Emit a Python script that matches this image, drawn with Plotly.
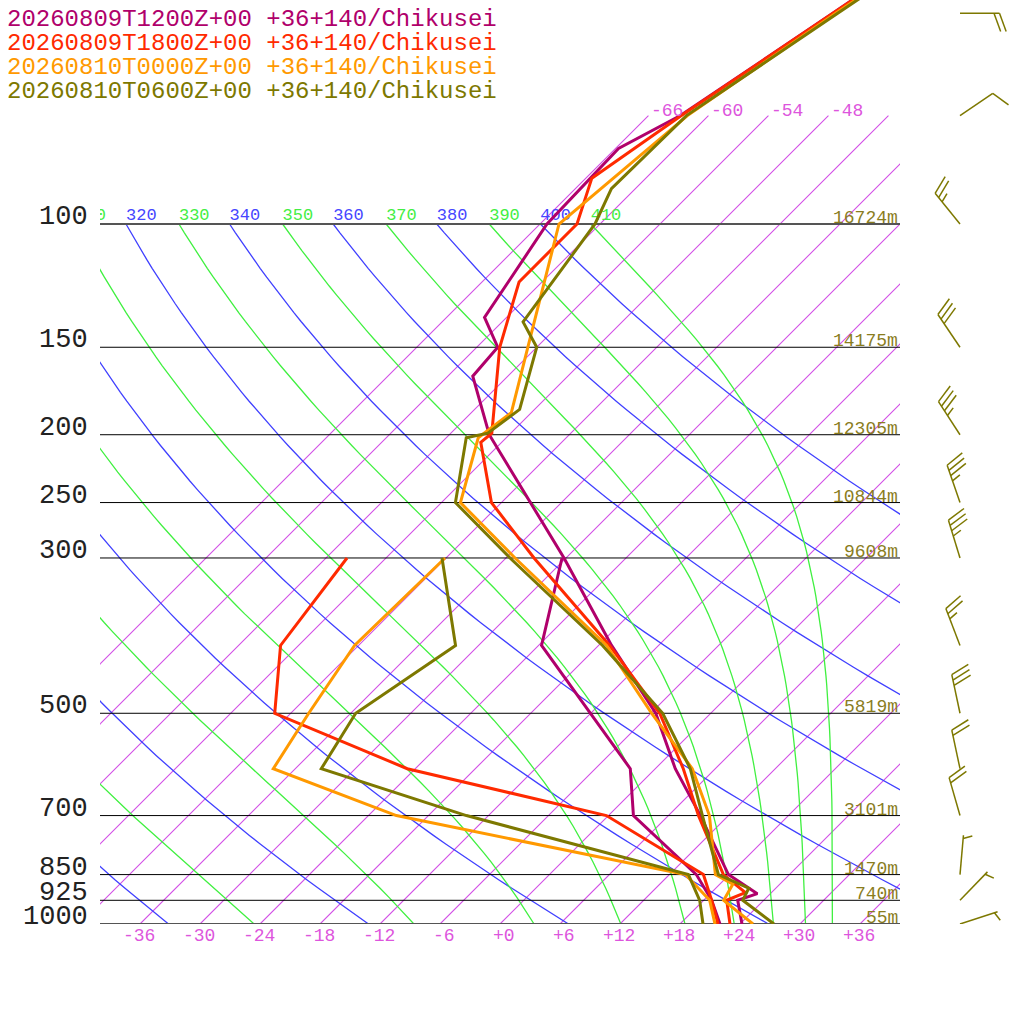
import numpy as np
import plotly.graph_objects as go

# soundings: pressure (hPa), temperature / dewpoint (degC)
# 20260809T1200Z (purple)
P_0912 = [1000, 925, 905, 850, 700, 600, 500, 400, 300, 200, 165, 150, 136, 100, 78, 70, 50, 30]
T_0912 = [24.2, 21.4, 22.7, 17.9, 9.2, 2.0, -5.5, -16.7, -30.2, -50.0, -57.5, -57.9, -62.2, -65.3, -65.7, -62.8, -57.8, -50.5]
PD_0912 = [1000, 925, 850, 700, 600, 500, 400, 300]
TD_0912 = [22.0, 18.8, 14.7, 2.5, -2.5, -12.0, -23.7, -30.4]

# 20260809T1800Z (red)
P_0918 = [1000, 925, 902, 850, 700, 600, 500, 400, 300, 250, 205, 199, 150, 121, 100, 86, 70, 50, 30]
T_0918 = [23.0, 20.3, 21.4, 17.4, 9.0, 2.8, -5.1, -16.9, -33.2, -43.0, -50.1, -49.9, -57.7, -62.3, -62.3, -65.4, -62.7, -57.7, -50.3]
PD_0918 = [1000, 925, 850, 700, 600, 500, 400, 300]
TD_0918 = [21.8, 18.8, 15.4, -0.2, -24.8, -43.6, -49.8, -51.9]

# 20260810T0000Z (orange)
P_1000 = [1000, 925, 877, 850, 700, 600, 500, 400, 300, 250, 202, 186, 100, 70, 50, 30]
T_1000 = [25.3, 20.0, 19.3, 16.6, 10.1, 3.7, -5.9, -17.2, -35.1, -46.1, -50.8, -50.0, -64.1, -62.1, -57.5, -50.0]
PD_1000 = [1000, 925, 850, 700, 600, 500, 400, 300]
TD_1000 = [21.5, 18.6, 13.6, -21.2, -38.2, -40.2, -42.4, -42.1]

# 20260810T0600Z (olive)
P_1006 = [1000, 925, 889, 850, 700, 600, 500, 400, 300, 250, 202, 199, 184, 150, 138, 100, 89, 70, 50, 30]
T_1006 = [27.4, 21.9, 21.3, 16.9, 9.4, 3.5, -4.8, -17.6, -35.6, -46.6, -52.0, -50.3, -49.5, -54.0, -57.9, -60.5, -62.4, -62.2, -57.3, -49.8]
PD_1006 = [1000, 925, 850, 700, 600, 500, 400, 300]
TD_1006 = [20.3, 17.6, 13.9, -14.2, -33.4, -35.5, -32.3, -42.4]

# winds of the last run (deg, kt)
WIND_P = [50, 70, 100, 150, 200, 250, 300, 400, 500, 600, 700, 850, 925, 1000]
WIND_DIR = [90, 56, 321, 326, 327, 341, 343, 339, 348, 348, 344, 5, 44, 72]
WIND_KT = [20, 10, 25, 30, 35, 35, 35, 25, 30, 20, 20, 5, 5, 5]

# labelled levels and their heights
LEVELS = [100, 150, 200, 250, 300, 500, 700, 850, 925, 1000]
HEIGHTS = [16724, 14175, 12305, 10844, 9608, 5819, 3101, 1470, 740, 55]

ISOTHERMS = list(range(-66, 37, 6))
T_TICKS = list(range(-36, 37, 6))
THETA = list(range(200, 401, 20))
THETA_E = list(range(230, 411, 20))

RUNS = [
    ("20260809T1200Z+00 +36+140/Chikusei", "#b0006b", P_0912, T_0912, PD_0912, TD_0912),
    ("20260809T1800Z+00 +36+140/Chikusei", "#ff2a00", P_0918, T_0918, PD_0918, TD_0918),
    ("20260810T0000Z+00 +36+140/Chikusei", "#ff9900", P_1000, T_1000, PD_1000, TD_1000),
    ("20260810T0600Z+00 +36+140/Chikusei", "#7d7800", P_1006, T_1006, PD_1006, TD_1006),
]

FONT = "Liberation Mono"
SIZE = 1024
OFF = 0              # page margin is removed by the post script below
SKEW = 70.0          # degC of skew per decade of pressure
PX_DEC = 700.0       # pixels per decade of pressure


def paper_x(px):
    return (px - OFF) / SIZE


def paper_y(py):
    return 1 - (py - OFF) / SIZE


X0, X1 = paper_x(100), paper_x(900)
Y0 = paper_y(924)
LOG_TOP = 3 - (924 - OFF) / PX_DEC
PX_PER_DEC = (1 - Y0) * SIZE / (3 - LOG_TOP)


def skew_x(t, p):
    return np.asarray(t, float) + SKEW * np.log10(1000.0 / np.asarray(p, float))


def theta_e_sat(tk, p):
    tc = tk - 273.15
    es = 6.112 * np.exp(17.67 * tc / (tc + 243.5))
    es = np.minimum(es, 0.9 * p)
    r = 622.0 * es / (p - es)
    return tk * (1000.0 / p) ** (0.2854 * (1 - 0.00028 * r)) * np.exp((3.376 / tk - 0.00254) * r * (1 + 0.00081 * r))


def moist_t(the, p):
    lo = np.full_like(p, 150.0)
    hi = np.full_like(p, 330.0)
    for _ in range(50):
        mid = 0.5 * (lo + hi)
        big = theta_e_sat(mid, p) > the
        hi = np.where(big, mid, hi)
        lo = np.where(big, lo, mid)
    return 0.5 * (lo + hi) - 273.15


fig = go.Figure()
pp = np.logspace(3, 2, 80)

# isotherms
for t in ISOTHERMS:
    fig.add_trace(go.Scatter(x=skew_x([t, t], [1000, 70]), y=[1000, 70], mode="lines",
                             line=dict(color="#d24ee6", width=1.1), hoverinfo="skip"))
# dry adiabats
for th in THETA:
    tt = th * (pp / 1000.0) ** 0.2857 - 273.15
    fig.add_trace(go.Scatter(x=skew_x(tt, pp), y=pp, mode="lines",
                             line=dict(color="#4040ff", width=1.3), hoverinfo="skip"))
# moist adiabats
for the in THETA_E:
    tt = moist_t(the, pp)
    fig.add_trace(go.Scatter(x=skew_x(tt, pp), y=pp, mode="lines",
                             line=dict(color="#40f040", width=1.3), hoverinfo="skip"))

# adiabat labels along 100 hPa (only those reaching the plot)
lab_x, lab_t, lab_c = [], [], []
for th in THETA:
    x = float(skew_x(th * 0.1 ** 0.2857 - 273.15, 100))
    if x > -44:
        lab_x.append(x); lab_t.append(str(th)); lab_c.append("#4646ff")
for the in THETA_E:
    x = float(skew_x(moist_t(the, np.array([100.0]))[0], 100))
    if x > -44:
        lab_x.append(x); lab_t.append(str(the)); lab_c.append("#44ee44")
fig.add_trace(go.Scatter(x=lab_x, y=[100] * len(lab_x), mode="text", text=lab_t,
                         textposition="top right", cliponaxis=True,
                         textfont=dict(family=FONT, size=17, color=lab_c), hoverinfo="skip"))

# pressure lines
for p in LEVELS:
    edge = p in (100, 1000)
    fig.add_trace(go.Scatter(x=[-40, 40], y=[p, p], mode="lines",
                             line=dict(color="#555555" if edge else "#000000", width=2 if edge else 1),
                             hoverinfo="skip"))

# soundings
for name, col, p, t, pd_, td in RUNS:
    fig.add_trace(go.Scatter(x=skew_x(td, pd_), y=pd_, mode="lines",
                             line=dict(color=col, width=3), hoverinfo="skip"))
    fig.add_trace(go.Scatter(x=skew_x(t, p), y=p, mode="lines",
                             line=dict(color=col, width=3), hoverinfo="skip"))

# wind barbs (x2 axis in pixel units)
STAFF, SPACE, FULL, HALF = 39.5, 5.5, 19.5, 9.5
BASE_X = 960.0
ca, sa = np.cos(np.radians(70)), np.sin(np.radians(70))
bx, by = [], []
for p, d, s in zip(WIND_P, WIND_DIR, WIND_KT):
    ux, uy = np.sin(np.radians(d)), np.cos(np.radians(d))
    fx, fy = ux * ca + uy * sa, -ux * sa + uy * ca

    def pt(dx, dy):
        return BASE_X + dx, p * 10 ** (-dy / PX_PER_DEC)

    for q in (pt(0, 0), pt(STAFF * ux, STAFF * uy)):
        bx.append(q[0]); by.append(q[1])
    bx.append(None); by.append(None)
    nfull, half = s // 10, (s % 10) >= 5
    marks = [(STAFF - i * SPACE, FULL) for i in range(nfull)]
    if half:
        marks.append((STAFF - (nfull if nfull else 0.6) * SPACE, HALF))
    for dist, ln in marks:
        a = pt(dist * ux, dist * uy)
        b = pt(dist * ux + ln * fx, dist * uy + ln * fy)
        bx += [a[0], b[0], None]
        by += [a[1], b[1], None]
fig.add_trace(go.Scatter(x=bx, y=by, xaxis="x2", yaxis="y", mode="lines",
                         line=dict(color="#7d7800", width=1.5), hoverinfo="skip"))

ann = []
for p in LEVELS:
    ann.append(dict(x=paper_x(90), xref="paper", y=np.log10(p), yref="y", text=str(p),
                    xanchor="right", yanchor="middle", yshift=7, showarrow=False,
                    font=dict(family=FONT, size=27, color="#222222")))
for p, h in zip(LEVELS, HEIGHTS):
    ann.append(dict(x=40, xref="x", y=np.log10(p), yref="y", text=f"{h}m",
                    xanchor="right", yanchor="middle", xshift=0, yshift=6, showarrow=False,
                    font=dict(family=FONT, size=18, color="#8a7d1e")))
for t in T_TICKS:
    ann.append(dict(x=t, xref="x", y=Y0, yref="paper", text=f"{t:+d}",
                    xanchor="right", yanchor="middle", xshift=17, yshift=-12, showarrow=False,
                    font=dict(family=FONT, size=18, color="#dd55dd")))
for t in ISOTHERMS:
    x70 = float(skew_x(t, 70))
    if -40 <= x70 <= 34:
        ann.append(dict(x=x70, xref="x", y=np.log10(70), yref="y", text=f"{t:+d}",
                        xanchor="left", yanchor="middle", xshift=1, yshift=5, showarrow=False,
                        font=dict(family=FONT, size=18, color="#dd55dd")))
for i, (name, col, *_rest) in enumerate(RUNS):
    ann.append(dict(x=paper_x(5), xref="paper", y=paper_y(19 + 24 * i), yref="paper", text=name,
                    xanchor="left", yanchor="middle", showarrow=False,
                    font=dict(family=FONT, size=24, color=col)))

fig.update_layout(
    width=SIZE, height=SIZE,
    margin=dict(l=0, r=0, t=0, b=0),
    paper_bgcolor="white", plot_bgcolor="white",
    showlegend=False,
    xaxis=dict(domain=[X0, X1], range=[-40, 40], visible=False),
    yaxis=dict(domain=[Y0, 1], type="log", range=[3, LOG_TOP], visible=False),
    xaxis2=dict(domain=[X1, 1], range=[900, 900 + (1 - X1) * SIZE], visible=False, anchor="y"),
    annotations=ann,
)

fig.write_html("out.html", config={"displayModeBar": False},
               post_script="document.body.style.margin='0';")
